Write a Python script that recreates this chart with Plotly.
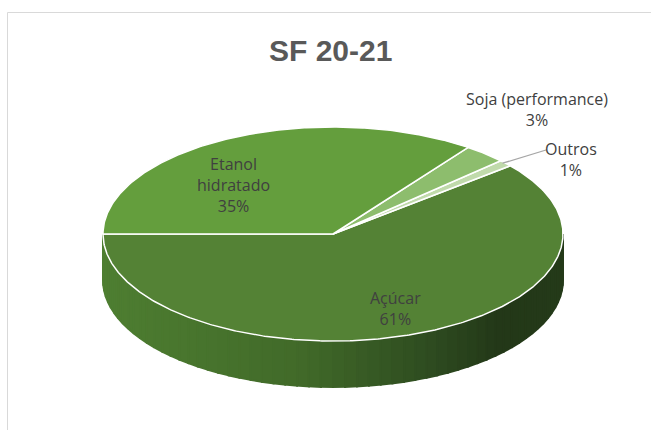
import numpy as np
import plotly.graph_objects as go

# ---- data (in drawing order, counter-clockwise from 9 o'clock through the bottom) ----
categories = ["Açúcar", "Outros", "Soja (performance)", "Etanol hidratado"]
values = [61, 1, 3, 35]
label_lines = ["Açúcar", "Outros", "Soja (performance)", "Etanol<br>hidratado"]
title_text = "SF 20-21"

# ---- style ----
slice_colors = ["#548235", "#C0DAAB", "#8DBD6D", "#649E3D"]
side_stops = [(104, (0x4E, 0x7E, 0x31)), (300, (0x41, 0x6A, 0x29)),
              (430, (0x2E, 0x4C, 0x20)), (500, (0x23, 0x38, 0x18)),
              (562, (0x24, 0x3A, 0x19))]
CX, CY, RX, RY, DEPTH = 333.0, 234.0, 230.0, 107.0, 46.0
START = 180.0

def pt(theta_deg, dy=0.0):
    t = np.radians(theta_deg)
    return CX + RX * np.cos(t), CY - RY * np.sin(t) + dy

def side_color(x):
    xs = [s[0] for s in side_stops]
    c = [np.interp(x, xs, [s[1][i] for s in side_stops]) for i in range(3)]
    return "rgb(%d,%d,%d)" % tuple(int(round(v)) for v in c)

fig = go.Figure()

# ---- side (front visible part: 180..360 degrees) ----
total = float(sum(values))
n_strips = 60
edges = np.linspace(180.0, 360.0, n_strips + 1)
for a0, a1 in zip(edges[:-1], edges[1:]):
    arc = np.linspace(a0, a1, 4)
    top = [pt(a) for a in arc]
    bot = [pt(a, DEPTH) for a in arc[::-1]]
    poly = top + bot
    xs = [p[0] for p in poly] + [poly[0][0]]
    ys = [p[1] for p in poly] + [poly[0][1]]
    xm = pt((a0 + a1) / 2)[0]
    col = side_color(xm)
    fig.add_trace(go.Scatter(x=xs, y=ys, mode="lines", fill="toself",
                             fillcolor=col, line=dict(color=col, width=2),
                             hoverinfo="skip", showlegend=False))

# ---- top face slices ----
angle = START
mids = []
for cat, v, col in zip(categories, values, slice_colors):
    span = 360.0 * v / total
    arc = np.linspace(angle, angle + span, max(int(span * 2), 4))
    pts = [(CX, CY)] + [pt(a) for a in arc] + [(CX, CY)]
    fig.add_trace(go.Scatter(x=[p[0] for p in pts], y=[p[1] for p in pts],
                             mode="lines", fill="toself", fillcolor=col,
                             line=dict(color="white", width=1.5),
                             name=cat, hoverinfo="name", showlegend=False))
    mids.append(angle + span / 2)
    angle += span

# ---- labels ----
label_pos = [(395, 308), (571, 159), (537, 109), (233, 185)]
for txt, v, (lx, ly) in zip(label_lines, values, label_pos):
    pct = "%d%%" % round(100 * v / total)
    fig.add_annotation(x=lx, y=ly, text=txt + "<br>" + pct, showarrow=False,
                       xref="x", yref="y", align="center",
                       font=dict(family="Open Sans, Liberation Sans, sans-serif",
                                 size=16, color="#404040"))

# leader line for Outros
ox, oy = pt(mids[1])
fig.add_shape(type="line", x0=ox - 3, y0=oy, x1=546, y1=150,
              xref="x", yref="y", line=dict(color="#A6A6A6", width=1.3))

# title
fig.add_annotation(x=330, y=50, text="<b>%s</b>" % title_text, showarrow=False,
                   xref="x", yref="y",
                   font=dict(family="Liberation Sans, Arial, sans-serif",
                             size=30, color="#595959"))

# chart border
fig.add_shape(type="rect", x0=7.5, y0=12.5, x1=700, y1=480, xref="x", yref="y",
              line=dict(color="#D9D9D9", width=1))

fig.update_layout(
    width=651, height=430,
    margin=dict(l=0, r=0, t=0, b=0),
    paper_bgcolor="white", plot_bgcolor="white",
    xaxis=dict(range=[0, 651], visible=False, fixedrange=True),
    yaxis=dict(range=[430, 0], visible=False, fixedrange=True),
    showlegend=False,
)

fig.write_html("out.html", config={"displayModeBar": False},
               post_script="document.body.style.margin='0';document.body.style.overflow='hidden';")
